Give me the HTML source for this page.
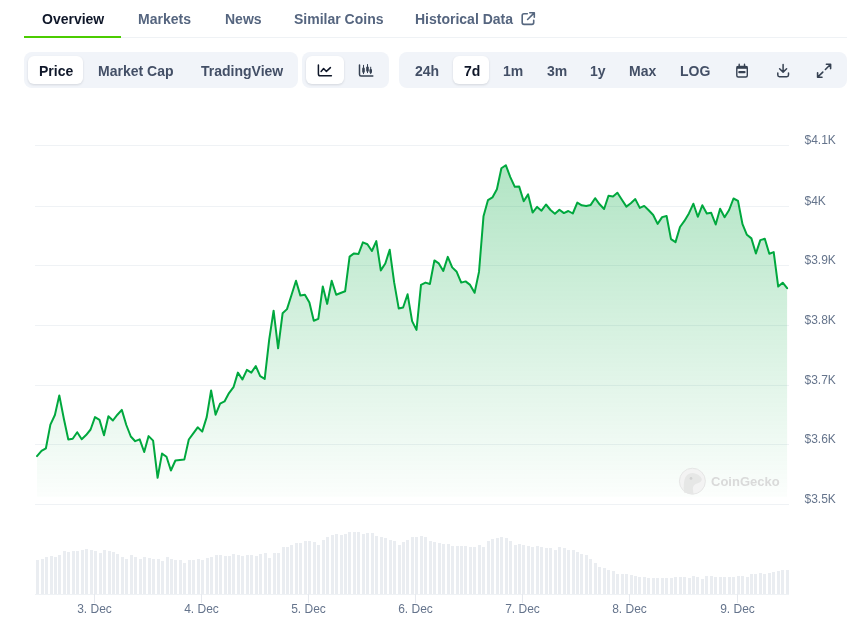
<!DOCTYPE html>
<html><head><meta charset="utf-8">
<style>
html,body{margin:0;padding:0;background:#fff;}
.t,svg{will-change:transform;}
body{width:847px;height:628px;overflow:hidden;position:relative;font-family:"Liberation Sans",sans-serif;}
.t{position:absolute;white-space:nowrap;font-size:14px;font-weight:bold;line-height:16px;}
.tab{color:#55657f;top:11px;}
.tab.on{color:#0f1729;}
.grp{position:absolute;top:52px;height:36px;background:#f1f4f9;border-radius:8px;}
.act{position:absolute;top:4px;height:28px;background:#fff;border-radius:6px;box-shadow:0 1px 3px rgba(16,24,40,.08),0 1px 2px rgba(16,24,40,.05);}
.btn{color:#434f66;top:62.5px;}
.btn.on{color:#0f1729;}
svg{position:absolute;left:0;top:0;}
</style></head><body>
<div class="t tab on" style="left:41.5px">Overview</div>
<div class="t tab" style="left:138px">Markets</div>
<div class="t tab" style="left:225.3px">News</div>
<div class="t tab" style="left:294.4px">Similar Coins</div>
<div class="t tab" style="left:415px">Historical Data</div>
<div style="position:absolute;left:24px;top:37px;width:823px;height:1px;background:#eff2f5"></div>
<div style="position:absolute;left:24px;top:36px;width:97px;height:2px;background:#4bcc00"></div>

<div class="grp" style="left:24px;width:274px"><div class="act" style="left:4px;width:55px"></div></div>
<div class="grp" style="left:302px;width:87px"><div class="act" style="left:4px;width:38px"></div></div>
<div class="grp" style="left:399px;width:448px"><div class="act" style="left:54px;width:36px"></div></div>

<div class="t btn on" style="left:38.8px">Price</div>
<div class="t btn" style="left:98.2px">Market Cap</div>
<div class="t btn" style="left:200.8px">TradingView</div>
<div class="t btn" style="left:414.9px">24h</div>
<div class="t btn on" style="left:463.5px">7d</div>
<div class="t btn" style="left:503px">1m</div>
<div class="t btn" style="left:546.5px">3m</div>
<div class="t btn" style="left:590px">1y</div>
<div class="t btn" style="left:629.2px">Max</div>
<div class="t btn" style="left:680px">LOG</div>

<svg width="847" height="628" viewBox="0 0 847 628">
<defs>
<linearGradient id="g" x1="0" y1="165" x2="0" y2="512" gradientUnits="userSpaceOnUse">
<stop offset="0" stop-color="#00a83e" stop-opacity="0.305"/>
<stop offset="1" stop-color="#00a83e" stop-opacity="0"/>
</linearGradient>
</defs>
<!-- external link icon -->
<g fill="none" stroke="#56677f" stroke-width="1.6" stroke-linecap="round" stroke-linejoin="round">
<path d="M527.3 13.8 H524 Q522.2 13.8 522.2 15.6 V22.6 Q522.2 24.4 524 24.4 H531.9 Q533.7 24.4 533.7 22.6 V20.2"/>
<path d="M529.8 12.8 H534.3 V17.3 M534 13.1 L527.6 19.5"/>
</g>
<!-- line chart icon -->
<g fill="none" stroke="#0f1729" stroke-width="1.5" stroke-linecap="round" stroke-linejoin="round">
<path d="M318.4 65 V74 Q318.4 75.8 320.2 75.8 H331.4"/>
<path d="M321.1 71.4 L323.6 68.5 L326.4 71.4 L330.4 67.6"/>
</g>
<!-- candle icon -->
<g fill="none" stroke="#364152" stroke-width="1.5" stroke-linecap="round" stroke-linejoin="round">
<path d="M359.5 65 V74.5 Q359.5 76 361 76 H372.8"/>
</g>
<g fill="none" stroke="#364152" stroke-width="1" stroke-linecap="round">
<path d="M363.5 65.3 V73.7 M367.5 64.5 V72.7 M370.7 67.2 V73.7"/>
</g>
<g fill="#364152"><rect x="362.2" y="67.6" width="2.6" height="5.3" rx="1.1"/><rect x="366.2" y="66.4" width="2.6" height="5.4" rx="1.1"/><rect x="369.4" y="69" width="2.6" height="4.2" rx="1.1"/></g>
<!-- calendar -->
<g fill="none" stroke="#364152" stroke-width="1.4" stroke-linecap="round" stroke-linejoin="round">
<rect x="736.8" y="66.5" width="10.5" height="10.5" rx="1.5"/>
<path d="M739.2 64.2 V66 M744.5 64.2 V66"/>
</g>
<rect x="736.8" y="66" width="10.5" height="2.8" fill="#364152"/>
<rect x="738.2" y="70.9" width="7.4" height="2.4" rx="1.2" fill="#364152"/>
<!-- download -->
<g fill="none" stroke="#364152" stroke-width="1.5" stroke-linecap="round" stroke-linejoin="round">
<path d="M783.1 64.4 V71.8 M779.6 68.8 L783.1 72.1 L786.6 68.8 M777.8 73 V75 Q777.8 76.7 779.5 76.7 H786.8 Q788.5 76.7 788.5 75 V73"/>
</g>
<!-- expand -->
<g fill="none" stroke="#364152" stroke-width="1.6" stroke-linecap="round" stroke-linejoin="round">
<path d="M826.4 64.3 H830.6 V68.6 M830.4 64.5 L825.4 69.5 M817.6 72.8 V77.2 H822 M817.8 77 L822.8 72.1"/>
</g>

<g fill="#eff2f5">
<rect x="35" y="145" width="754" height="1"/>
<rect x="35" y="206" width="754" height="1"/>
<rect x="35" y="265" width="754" height="1"/>
<rect x="35" y="325" width="754" height="1"/>
<rect x="35" y="385" width="754" height="1"/>
<rect x="35" y="444" width="754" height="1"/>
<rect x="35" y="504" width="754" height="1"/>
</g>
<g fill="#eaedf1">
<rect x="36" y="560" width="3" height="34"/>
<rect x="41" y="559" width="3" height="35"/>
<rect x="45" y="557" width="3" height="37"/>
<rect x="50" y="556" width="3" height="38"/>
<rect x="54" y="557" width="3" height="37"/>
<rect x="58" y="555" width="3" height="39"/>
<rect x="63" y="551" width="3" height="43"/>
<rect x="67" y="552" width="3" height="42"/>
<rect x="72" y="551" width="3" height="43"/>
<rect x="76" y="551" width="3" height="43"/>
<rect x="81" y="550" width="3" height="44"/>
<rect x="85" y="549" width="3" height="45"/>
<rect x="90" y="550" width="3" height="44"/>
<rect x="94" y="551" width="3" height="43"/>
<rect x="99" y="553" width="3" height="41"/>
<rect x="103" y="550" width="3" height="44"/>
<rect x="108" y="551" width="3" height="43"/>
<rect x="112" y="552" width="3" height="42"/>
<rect x="116" y="554" width="3" height="40"/>
<rect x="121" y="557" width="3" height="37"/>
<rect x="125" y="559" width="3" height="35"/>
<rect x="130" y="555" width="3" height="39"/>
<rect x="134" y="557" width="3" height="37"/>
<rect x="139" y="559" width="3" height="35"/>
<rect x="143" y="557" width="3" height="37"/>
<rect x="148" y="558" width="3" height="36"/>
<rect x="152" y="559" width="3" height="35"/>
<rect x="157" y="559" width="3" height="35"/>
<rect x="161" y="561" width="3" height="33"/>
<rect x="166" y="557" width="3" height="37"/>
<rect x="170" y="559" width="3" height="35"/>
<rect x="174" y="560" width="3" height="34"/>
<rect x="179" y="560" width="3" height="34"/>
<rect x="183" y="563" width="3" height="31"/>
<rect x="188" y="560" width="3" height="34"/>
<rect x="192" y="560" width="3" height="34"/>
<rect x="197" y="559" width="3" height="35"/>
<rect x="201" y="560" width="3" height="34"/>
<rect x="206" y="558" width="3" height="36"/>
<rect x="210" y="557" width="3" height="37"/>
<rect x="215" y="555" width="3" height="39"/>
<rect x="219" y="555" width="3" height="39"/>
<rect x="224" y="556" width="3" height="38"/>
<rect x="228" y="556" width="3" height="38"/>
<rect x="232" y="554" width="3" height="40"/>
<rect x="237" y="555" width="3" height="39"/>
<rect x="241" y="556" width="3" height="38"/>
<rect x="246" y="555" width="3" height="39"/>
<rect x="250" y="555" width="3" height="39"/>
<rect x="255" y="556" width="3" height="38"/>
<rect x="259" y="554" width="3" height="40"/>
<rect x="264" y="553" width="3" height="41"/>
<rect x="268" y="558" width="3" height="36"/>
<rect x="273" y="553" width="3" height="41"/>
<rect x="277" y="553" width="3" height="41"/>
<rect x="282" y="547" width="3" height="47"/>
<rect x="286" y="547" width="3" height="47"/>
<rect x="290" y="545" width="3" height="49"/>
<rect x="295" y="543" width="3" height="51"/>
<rect x="299" y="543" width="3" height="51"/>
<rect x="304" y="541" width="3" height="53"/>
<rect x="308" y="541" width="3" height="53"/>
<rect x="313" y="542" width="3" height="52"/>
<rect x="317" y="545" width="3" height="49"/>
<rect x="322" y="540" width="3" height="54"/>
<rect x="326" y="537" width="3" height="57"/>
<rect x="331" y="535" width="3" height="59"/>
<rect x="335" y="534" width="3" height="60"/>
<rect x="340" y="535" width="3" height="59"/>
<rect x="344" y="534" width="3" height="60"/>
<rect x="348" y="532" width="3" height="62"/>
<rect x="353" y="532" width="3" height="62"/>
<rect x="357" y="532" width="3" height="62"/>
<rect x="362" y="534" width="3" height="60"/>
<rect x="366" y="533" width="3" height="61"/>
<rect x="371" y="533" width="3" height="61"/>
<rect x="375" y="536" width="3" height="58"/>
<rect x="380" y="537" width="3" height="57"/>
<rect x="384" y="538" width="3" height="56"/>
<rect x="389" y="540" width="3" height="54"/>
<rect x="393" y="541" width="3" height="53"/>
<rect x="398" y="545" width="3" height="49"/>
<rect x="402" y="542" width="3" height="52"/>
<rect x="406" y="540" width="3" height="54"/>
<rect x="411" y="537" width="3" height="57"/>
<rect x="415" y="537" width="3" height="57"/>
<rect x="420" y="536" width="3" height="58"/>
<rect x="424" y="537" width="3" height="57"/>
<rect x="429" y="541" width="3" height="53"/>
<rect x="433" y="542" width="3" height="52"/>
<rect x="438" y="543" width="3" height="51"/>
<rect x="442" y="544" width="3" height="50"/>
<rect x="447" y="544" width="3" height="50"/>
<rect x="451" y="546" width="3" height="48"/>
<rect x="456" y="546" width="3" height="48"/>
<rect x="460" y="546" width="3" height="48"/>
<rect x="464" y="546" width="3" height="48"/>
<rect x="469" y="547" width="3" height="47"/>
<rect x="473" y="547" width="3" height="47"/>
<rect x="478" y="545" width="3" height="49"/>
<rect x="482" y="547" width="3" height="47"/>
<rect x="487" y="541" width="3" height="53"/>
<rect x="491" y="539" width="3" height="55"/>
<rect x="496" y="538" width="3" height="56"/>
<rect x="500" y="537" width="3" height="57"/>
<rect x="505" y="538" width="3" height="56"/>
<rect x="509" y="541" width="3" height="53"/>
<rect x="514" y="545" width="3" height="49"/>
<rect x="518" y="544" width="3" height="50"/>
<rect x="522" y="545" width="3" height="49"/>
<rect x="527" y="546" width="3" height="48"/>
<rect x="531" y="547" width="3" height="47"/>
<rect x="536" y="546" width="3" height="48"/>
<rect x="540" y="547" width="3" height="47"/>
<rect x="545" y="548" width="3" height="46"/>
<rect x="549" y="548" width="3" height="46"/>
<rect x="554" y="550" width="3" height="44"/>
<rect x="558" y="547" width="3" height="47"/>
<rect x="563" y="548" width="3" height="46"/>
<rect x="567" y="550" width="3" height="44"/>
<rect x="572" y="550" width="3" height="44"/>
<rect x="576" y="552" width="3" height="42"/>
<rect x="580" y="554" width="3" height="40"/>
<rect x="585" y="555" width="3" height="39"/>
<rect x="589" y="559" width="3" height="35"/>
<rect x="594" y="563" width="3" height="31"/>
<rect x="598" y="567" width="3" height="27"/>
<rect x="603" y="568" width="3" height="26"/>
<rect x="607" y="570" width="3" height="24"/>
<rect x="612" y="571" width="3" height="23"/>
<rect x="616" y="574" width="3" height="20"/>
<rect x="621" y="574" width="3" height="20"/>
<rect x="625" y="574" width="3" height="20"/>
<rect x="630" y="575" width="3" height="19"/>
<rect x="634" y="576" width="3" height="18"/>
<rect x="638" y="577" width="3" height="17"/>
<rect x="643" y="577" width="3" height="17"/>
<rect x="647" y="578" width="3" height="16"/>
<rect x="652" y="578" width="3" height="16"/>
<rect x="656" y="578" width="3" height="16"/>
<rect x="661" y="578" width="3" height="16"/>
<rect x="665" y="578" width="3" height="16"/>
<rect x="670" y="578" width="3" height="16"/>
<rect x="674" y="577" width="3" height="17"/>
<rect x="679" y="577" width="3" height="17"/>
<rect x="683" y="577" width="3" height="17"/>
<rect x="688" y="578" width="3" height="16"/>
<rect x="692" y="576" width="3" height="18"/>
<rect x="696" y="577" width="3" height="17"/>
<rect x="701" y="579" width="3" height="15"/>
<rect x="705" y="576" width="3" height="18"/>
<rect x="710" y="576" width="3" height="18"/>
<rect x="714" y="577" width="3" height="17"/>
<rect x="719" y="577" width="3" height="17"/>
<rect x="723" y="577" width="3" height="17"/>
<rect x="728" y="577" width="3" height="17"/>
<rect x="732" y="577" width="3" height="17"/>
<rect x="737" y="576" width="3" height="18"/>
<rect x="741" y="576" width="3" height="18"/>
<rect x="746" y="577" width="3" height="17"/>
<rect x="750" y="574" width="3" height="20"/>
<rect x="754" y="574" width="3" height="20"/>
<rect x="759" y="573" width="3" height="21"/>
<rect x="763" y="574" width="3" height="20"/>
<rect x="768" y="573" width="3" height="21"/>
<rect x="772" y="572" width="3" height="22"/>
<rect x="777" y="571" width="3" height="23"/>
<rect x="781" y="570" width="3" height="24"/>
<rect x="786" y="570" width="3" height="24"/>
</g>
<rect x="35" y="594" width="754" height="1" fill="#eff2f5"/>
<g fill="#e6e9ee">
<rect x="94" y="594" width="1" height="9"/>
<rect x="201" y="594" width="1" height="9"/>
<rect x="308" y="594" width="1" height="9"/>
<rect x="415" y="594" width="1" height="9"/>
<rect x="522" y="594" width="1" height="9"/>
<rect x="629" y="594" width="1" height="9"/>
<rect x="737" y="594" width="1" height="9"/>
</g>
<path d="M37.0 456.1 L41.5 450.9 L45.9 448.3 L50.4 424.6 L54.9 415.0 L59.3 395.4 L63.8 418.5 L68.3 439.5 L72.7 438.8 L77.2 432.2 L81.7 439.2 L86.1 435.1 L90.6 429.5 L95.0 417.1 L99.5 419.9 L104.0 435.3 L108.4 416.2 L112.9 420.5 L117.4 414.7 L121.8 409.9 L126.3 425.0 L130.8 436.5 L135.2 441.2 L139.7 439.3 L144.2 452.0 L148.6 436.1 L153.1 440.6 L157.6 477.8 L162.0 453.6 L166.5 456.7 L170.9 470.5 L175.4 460.5 L179.9 460.0 L184.3 459.6 L188.8 439.5 L193.3 433.4 L197.7 427.3 L202.2 431.6 L206.7 417.1 L211.1 390.5 L215.6 414.7 L220.1 403.6 L224.5 401.4 L229.0 393.1 L233.5 387.2 L237.9 372.6 L242.4 379.5 L246.9 369.9 L251.3 372.6 L255.8 366.1 L260.2 376.1 L264.7 378.9 L269.2 339.7 L273.6 310.7 L278.1 348.3 L282.6 313.3 L287.0 309.1 L291.5 295.0 L296.0 280.8 L300.4 295.6 L304.9 294.8 L309.4 302.6 L313.8 320.7 L318.3 318.9 L322.8 286.4 L327.2 303.9 L331.7 280.8 L336.2 294.8 L340.6 293.0 L345.1 291.3 L349.6 256.6 L354.0 253.4 L358.5 254.0 L362.9 242.4 L367.4 244.2 L371.9 251.0 L376.3 241.1 L380.8 270.4 L385.3 263.5 L389.7 249.7 L394.2 282.7 L398.7 308.4 L403.1 307.5 L407.6 294.3 L412.1 321.1 L416.5 329.9 L421.0 284.9 L425.5 282.6 L429.9 284.0 L434.4 260.4 L438.8 263.4 L443.3 270.9 L447.8 256.9 L452.2 267.4 L456.7 271.8 L461.2 282.6 L465.6 281.4 L470.1 284.9 L474.6 292.8 L479.0 271.9 L483.5 216.3 L488.0 200.1 L492.4 197.4 L496.9 189.3 L501.4 168.3 L505.8 165.2 L510.3 177.1 L514.8 186.8 L519.2 186.6 L523.7 201.2 L528.1 194.4 L532.6 212.6 L537.1 206.9 L541.5 210.7 L546.0 204.5 L550.5 210.0 L554.9 213.7 L559.4 209.7 L563.9 213.1 L568.3 211.0 L572.8 213.5 L577.3 202.6 L581.7 205.3 L586.2 205.9 L590.7 204.9 L595.1 198.2 L599.6 204.3 L604.1 209.0 L608.5 195.7 L613.0 196.4 L617.4 192.7 L621.9 199.8 L626.4 206.6 L630.8 203.2 L635.3 199.1 L639.8 207.9 L644.2 205.9 L648.7 210.3 L653.2 215.0 L657.6 223.9 L662.1 217.1 L666.6 216.0 L671.0 239.1 L675.5 242.1 L680.0 227.0 L684.4 220.9 L688.9 213.4 L693.4 203.7 L697.8 216.8 L702.3 205.3 L706.8 213.4 L711.2 212.8 L715.7 224.5 L720.1 208.7 L724.6 217.2 L729.1 210.0 L733.5 198.5 L738.0 200.9 L742.5 224.2 L746.9 234.8 L751.4 238.4 L755.9 253.5 L760.3 240.1 L764.8 238.8 L769.3 253.8 L773.7 252.1 L778.2 286.6 L782.7 282.7 L787.1 288.2 L787.1 497 L37.0 497 Z" fill="url(#g)"/>
<!-- watermark -->
<g opacity="0.9">
<circle cx="692.4" cy="481.2" r="13" fill="#f2f2f2" stroke="#e3e3e3" stroke-width="1"/>
<path d="M684 492.5 Q683 482 685.5 477 Q688.5 472.5 694 473.2 Q699.5 474 701.8 478.8 Q702 482.5 697 483.5 Q693.2 484.5 692.8 488.5 L693.5 494.2 Z" fill="#e4e4e4"/>
<circle cx="691" cy="478.4" r="1.4" fill="#cdcdcd"/>
<text x="711" y="486" style="font-family:'Liberation Sans',sans-serif;font-weight:bold;font-size:13px" fill="#d6d6d6">CoinGecko</text>
</g>
<path d="M37.0 456.1 L41.5 450.9 L45.9 448.3 L50.4 424.6 L54.9 415.0 L59.3 395.4 L63.8 418.5 L68.3 439.5 L72.7 438.8 L77.2 432.2 L81.7 439.2 L86.1 435.1 L90.6 429.5 L95.0 417.1 L99.5 419.9 L104.0 435.3 L108.4 416.2 L112.9 420.5 L117.4 414.7 L121.8 409.9 L126.3 425.0 L130.8 436.5 L135.2 441.2 L139.7 439.3 L144.2 452.0 L148.6 436.1 L153.1 440.6 L157.6 477.8 L162.0 453.6 L166.5 456.7 L170.9 470.5 L175.4 460.5 L179.9 460.0 L184.3 459.6 L188.8 439.5 L193.3 433.4 L197.7 427.3 L202.2 431.6 L206.7 417.1 L211.1 390.5 L215.6 414.7 L220.1 403.6 L224.5 401.4 L229.0 393.1 L233.5 387.2 L237.9 372.6 L242.4 379.5 L246.9 369.9 L251.3 372.6 L255.8 366.1 L260.2 376.1 L264.7 378.9 L269.2 339.7 L273.6 310.7 L278.1 348.3 L282.6 313.3 L287.0 309.1 L291.5 295.0 L296.0 280.8 L300.4 295.6 L304.9 294.8 L309.4 302.6 L313.8 320.7 L318.3 318.9 L322.8 286.4 L327.2 303.9 L331.7 280.8 L336.2 294.8 L340.6 293.0 L345.1 291.3 L349.6 256.6 L354.0 253.4 L358.5 254.0 L362.9 242.4 L367.4 244.2 L371.9 251.0 L376.3 241.1 L380.8 270.4 L385.3 263.5 L389.7 249.7 L394.2 282.7 L398.7 308.4 L403.1 307.5 L407.6 294.3 L412.1 321.1 L416.5 329.9 L421.0 284.9 L425.5 282.6 L429.9 284.0 L434.4 260.4 L438.8 263.4 L443.3 270.9 L447.8 256.9 L452.2 267.4 L456.7 271.8 L461.2 282.6 L465.6 281.4 L470.1 284.9 L474.6 292.8 L479.0 271.9 L483.5 216.3 L488.0 200.1 L492.4 197.4 L496.9 189.3 L501.4 168.3 L505.8 165.2 L510.3 177.1 L514.8 186.8 L519.2 186.6 L523.7 201.2 L528.1 194.4 L532.6 212.6 L537.1 206.9 L541.5 210.7 L546.0 204.5 L550.5 210.0 L554.9 213.7 L559.4 209.7 L563.9 213.1 L568.3 211.0 L572.8 213.5 L577.3 202.6 L581.7 205.3 L586.2 205.9 L590.7 204.9 L595.1 198.2 L599.6 204.3 L604.1 209.0 L608.5 195.7 L613.0 196.4 L617.4 192.7 L621.9 199.8 L626.4 206.6 L630.8 203.2 L635.3 199.1 L639.8 207.9 L644.2 205.9 L648.7 210.3 L653.2 215.0 L657.6 223.9 L662.1 217.1 L666.6 216.0 L671.0 239.1 L675.5 242.1 L680.0 227.0 L684.4 220.9 L688.9 213.4 L693.4 203.7 L697.8 216.8 L702.3 205.3 L706.8 213.4 L711.2 212.8 L715.7 224.5 L720.1 208.7 L724.6 217.2 L729.1 210.0 L733.5 198.5 L738.0 200.9 L742.5 224.2 L746.9 234.8 L751.4 238.4 L755.9 253.5 L760.3 240.1 L764.8 238.8 L769.3 253.8 L773.7 252.1 L778.2 286.6 L782.7 282.7 L787.1 288.2" fill="none" stroke="#00a83e" stroke-width="2" stroke-linejoin="round" stroke-linecap="round"/>
<g style="font-family:'Liberation Sans',sans-serif;font-size:12px" fill="#65748c">
<text x="804.5" y="144.2">$4.1K</text>
<text x="804.5" y="205.2">$4K</text>
<text x="804.5" y="264.2">$3.9K</text>
<text x="804.5" y="324.2">$3.8K</text>
<text x="804.5" y="384.2">$3.7K</text>
<text x="804.5" y="443.2">$3.6K</text>
<text x="804.5" y="503.2">$3.5K</text>
<text x="94.5" y="613" text-anchor="middle">3. Dec</text>
<text x="201.5" y="613" text-anchor="middle">4. Dec</text>
<text x="308.5" y="613" text-anchor="middle">5. Dec</text>
<text x="415.5" y="613" text-anchor="middle">6. Dec</text>
<text x="522.5" y="613" text-anchor="middle">7. Dec</text>
<text x="629.5" y="613" text-anchor="middle">8. Dec</text>
<text x="737.5" y="613" text-anchor="middle">9. Dec</text>
</g>
</svg>
</body></html>
